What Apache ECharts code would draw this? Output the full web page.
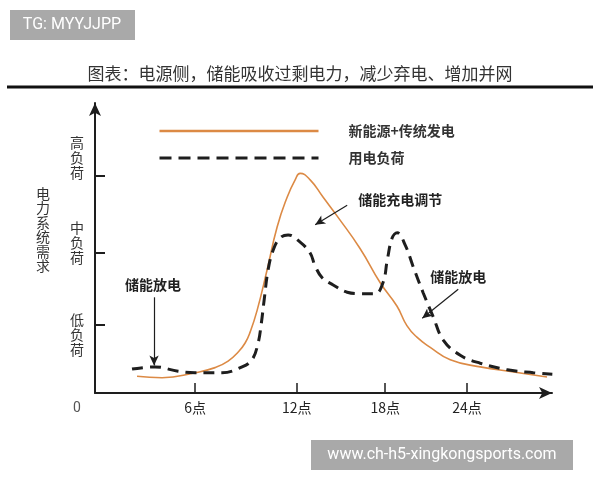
<!DOCTYPE html>
<html>
<head>
<meta charset="utf-8">
<script src="https://cdn.jsdelivr.net/npm/echarts@6/dist/echarts.min.js"></script>
<style>
  html, body { margin: 0; background: #fff; }
  #main { width: 600px; height: 480px; }
</style>
</head>
<body>
<div id="main"></div>
<script>
  // chart text
  const titleText = '图表：电源侧，储能吸收过剩电力，减少弃电、增加并网';
  const seriesNames = ['新能源+传统发电', '用电负荷'];
  const yAxisName = '电力系统需求';

  // axes
  const hourTicks = [6, 12.1, 17.4, 22.3];
  const hourLabels = ['6点', '12点', '18点', '24点'];
  const levelTicks = [0.94, 1.94, 3.0];
  const levelLabelPos = [0.8, 2.08, 3.24];
  const levelLabels = ['低负荷', '中负荷', '高负荷'];
  const yNameLevel = 2.25;

  // 新能源+传统发电
  const supplyHours = [2.52, 4.02, 6.0, 7.2, 7.98, 8.6, 9.0, 9.3, 9.72, 10.32, 10.92, 11.52, 12.0, 12.3,
    12.9, 13.68, 14.52, 15.9, 17.1, 18.1, 18.7, 19.3, 20.1, 21.3, 23.1, 25.1, 27.1];
  const supplyLevel = [0.23, 0.21, 0.28, 0.35, 0.44, 0.57, 0.69, 0.84, 1.14, 1.70, 2.29, 2.70, 2.94, 3.03,
    2.94, 2.70, 2.44, 1.99, 1.52, 1.20, 0.93, 0.77, 0.63, 0.46, 0.36, 0.29, 0.22];

  // 用电负荷
  const loadHours = [2.22, 3.6, 4.98, 6.0, 7.62, 8.82, 9.42, 9.78, 9.96, 10.14, 10.38, 10.68, 11.1, 11.58,
    12.3, 12.9, 13.2, 13.62, 14.28, 15.12, 15.9, 16.8, 17.28, 17.52, 17.82, 18.12, 18.6, 19.08, 19.68,
    20.28, 20.88, 21.9, 23.1, 24.72, 26.28, 27.42];
  const loadLevel = [0.33, 0.36, 0.30, 0.28, 0.28, 0.36, 0.46, 0.69, 0.94, 1.28, 1.70, 1.97, 2.14, 2.18,
    2.08, 1.93, 1.75, 1.59, 1.49, 1.39, 1.37, 1.37, 1.53, 1.83, 2.14, 2.21, 2.04, 1.74, 1.38,
    1.05, 0.73, 0.52, 0.41, 0.32, 0.28, 0.26];

  // annotations (data units)
  const notes = [
    {text: '储能放电', at: [3.48, 1.49], from: [3.54, 1.32], to: [3.54, 0.38]},
    {text: '储能充电调节', at: [18.3, 2.66], from: [15.12, 2.59], to: [13.2, 2.32]},
    {text: '储能放电', at: [21.78, 1.61], from: [21.78, 1.43], to: [19.62, 1.03]}
  ];

  const orange = '#DC8A45';
  const ink = '#1e1e1e';
  const cjk = '"Noto Sans CJK SC", "Noto Sans", sans-serif';
  const vertical = s => s.split('').join('\n');

  const chart = echarts.init(document.getElementById('main'));
  chart.setOption({
    animation: false,
    backgroundColor: '#fff',
    title: {
      text: titleText, left: 'center', top: 65, padding: 0,
      textStyle: {fontFamily: cjk, fontSize: 17, fontWeight: 'normal', color: '#333'}
    },
    legend: {
      orient: 'vertical', left: 153, top: 119, itemWidth: 159, itemHeight: 14, itemGap: 13,
      data: [
        {name: seriesNames[0], lineStyle: {width: 2.5, color: orange}, itemStyle: {opacity: 0}},
        {name: seriesNames[1], lineStyle: {width: 3, color: ink, type: [12, 7]}, itemStyle: {opacity: 0}}
      ],
      textStyle: {fontFamily: cjk, fontSize: 14, fontWeight: 'bold', color: '#333', padding: [12, 0, 0, 25]}
    },
    grid: {left: 95, right: 48, top: 103, bottom: 87},
    xAxis: {
      type: 'value', min: 0, max: 27.4,
      axisLine: {lineStyle: {color: ink, width: 2}, symbol: ['none', 'arrow'], symbolSize: [9, 13]},
      axisTick: {inside: true, length: 10, customValues: hourTicks, lineStyle: {color: ink, width: 1.5}},
      axisLabel: {
        customValues: hourTicks, margin: 8,
        formatter: v => hourLabels[hourTicks.indexOf(v)],
        fontFamily: cjk, fontSize: 14, color: '#222'
      },
      splitLine: {show: false}
    },
    yAxis: {
      type: 'value', min: 0, max: 4,
      axisLine: {lineStyle: {color: ink, width: 2}, symbol: ['none', 'arrow'], symbolSize: [9, 13]},
      axisTick: {inside: true, length: 10, customValues: levelTicks, lineStyle: {color: ink, width: 2}},
      axisLabel: {
        customValues: levelLabelPos, margin: 11,
        formatter: v => vertical(levelLabels[levelLabelPos.indexOf(v)]),
        fontFamily: cjk, fontSize: 14, lineHeight: 15, color: '#333'
      },
      splitLine: {show: false}
    },
    series: [
      {
        name: seriesNames[0], type: 'line', smooth: 0.5, symbol: 'none',
        lineStyle: {color: orange, width: 1.6},
        itemStyle: {color: orange},
        data: supplyHours.map((h, i) => [h, supplyLevel[i]])
      },
      {
        name: seriesNames[1], type: 'line', smooth: 0.4, symbol: 'none',
        lineStyle: {color: ink, width: 3, type: [11, 7]},
        itemStyle: {color: ink},
        data: loadHours.map((h, i) => [h, loadLevel[i]]),
        markLine: {
          silent: true, symbol: ['none', 'arrow'], symbolSize: [7, 10],
          lineStyle: {color: ink, width: 1.2, type: 'solid'},
          label: {show: false},
          data: notes.map(n => [{coord: n.from}, {coord: n.to}])
        }
      }
    ]
  });

  // annotation texts, axis name, title rule, "0" label and watermark boxes
  const px = p => chart.convertToPixel({gridIndex: 0}, p);
  const origin = px([0, 0]);
  const namePos = px([0, yNameLevel]);
  const graphics = notes.map(n => {
    const p = px(n.at);
    return {
      type: 'text', x: p[0], y: p[1],
      style: {text: n.text, fontFamily: cjk, fontSize: 14, fontWeight: 'bold', fill: '#222',
        align: 'center', verticalAlign: 'middle'}
    };
  });
  graphics.push(
    {type: 'text', x: namePos[0] - 52, y: namePos[1],
      style: {text: vertical(yAxisName), fontFamily: cjk, fontSize: 14, lineHeight: 14.5, fill: '#333',
        align: 'center', verticalAlign: 'middle'}},
    {type: 'line', shape: {x1: 7, y1: 87, x2: 593, y2: 87}, style: {stroke: '#111', lineWidth: 3}},
    {type: 'text', x: origin[0] - 18, y: origin[1] + 15,
      style: {text: '0', fontFamily: 'Roboto, sans-serif', fontSize: 14, fill: '#555', align: 'center',
        verticalAlign: 'middle'}},
    {type: 'rect', shape: {x: 10, y: 10, width: 125, height: 30}, style: {fill: '#a9a9a9'}},
    {type: 'text', x: 72, y: 25,
      style: {text: 'TG: MYYJJPP', fontFamily: 'Roboto, sans-serif', fontSize: 16, fill: '#fff',
        align: 'center', verticalAlign: 'middle'}},
    {type: 'rect', shape: {x: 311, y: 440, width: 262, height: 30}, style: {fill: '#a9a9a9'}},
    {type: 'text', x: 442, y: 455,
      style: {text: 'www.ch-h5-xingkongsports.com', fontFamily: 'Roboto, sans-serif', fontSize: 16,
        fill: '#fff', align: 'center', verticalAlign: 'middle'}}
  );
  chart.setOption({graphic: graphics});
</script>
</body>
</html>
